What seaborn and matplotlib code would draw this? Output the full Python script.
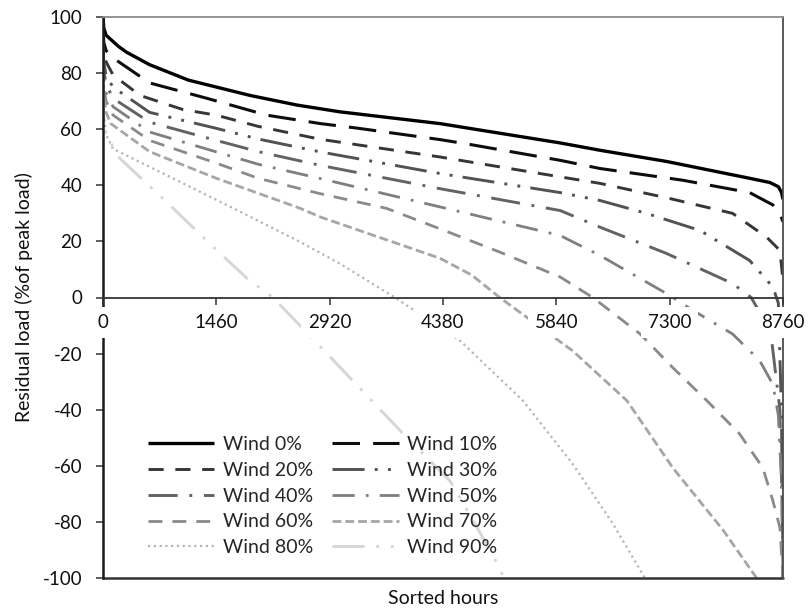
import matplotlib
matplotlib.use("Agg")
import matplotlib.pyplot as plt
import pandas as pd
import seaborn as sns

# ---------------- data ----------------
series_names = ["Wind 0%", "Wind 10%", "Wind 20%", "Wind 30%", "Wind 40%",
                "Wind 50%", "Wind 60%", "Wind 70%", "Wind 80%", "Wind 90%"]

hours_w0 = [0, 10, 40, 100, 200, 300, 600, 1100, 1900, 2500, 3050, 4340, 5890, 6400, 7260, 8330, 8590, 8700, 8740, 8760]
load_w0 = [100, 96, 93.5, 92, 89.5, 87.5, 83, 77.5, 72, 68.6, 66.2, 62, 55.1, 52.5, 48.5, 42.5, 41, 39.5, 37.5, 35]

hours_w10 = [0, 10, 40, 130, 600, 1340, 2110, 2800, 3270, 4340, 4720, 5890, 6400, 7470, 8330, 8630, 8720, 8760]
load_w10 = [97, 91, 88, 85.4, 76.5, 71, 65, 62, 60.4, 56.3, 54.6, 48.9, 46, 41.8, 37.4, 33, 30, 27]

hours_w20 = [0, 10, 40, 130, 480, 1030, 1460, 2000, 2800, 4340, 5890, 6400, 7300, 8110, 8550, 8720, 8760]
load_w20 = [94, 88, 84, 79.3, 72, 67, 65, 61, 56.4, 50.1, 43, 40.7, 35.3, 30, 21.5, 16.8, 6]

hours_w30 = [0, 10, 40, 130, 600, 1460, 2000, 2800, 4340, 5890, 6400, 7000, 7690, 8330, 8630, 8700, 8740, 8760]
load_w30 = [91, 84, 79, 75, 66, 60.3, 56.5, 51.9, 44.2, 37.4, 34.6, 30, 23.9, 13.2, 3.7, -2, -40, -100]

hours_w40 = [0, 10, 40, 130, 600, 1460, 2000, 2800, 4340, 5890, 6400, 7260, 8110, 8350, 8600, 8720, 8750, 8760]
load_w40 = [88, 81, 76, 71, 62.5, 56, 52, 47.1, 38.8, 31, 25.1, 15.7, 5, 0, -12, -40, -75, -100]

hours_w50 = [0, 10, 40, 130, 600, 1460, 2000, 2800, 4340, 5890, 6400, 7260, 7600, 8110, 8460, 8630, 8700, 8740, 8760]
load_w50 = [85, 78, 73, 68, 59, 51.9, 47.5, 42.4, 32.3, 22.1, 15, 1.4, -4.6, -13, -22.5, -31, -42, -65, -100]

hours_w60 = [0, 10, 40, 130, 600, 1460, 2000, 2800, 3650, 4340, 5110, 5890, 6310, 6920, 7340, 7780, 8200, 8500, 8630, 8720, 8760]
load_w60 = [82, 75, 70, 65, 56, 47.9, 42.5, 37, 31.8, 24.5, 16.2, 7.3, 0, -13, -25, -36.8, -48.6, -60.7, -72.5, -82, -100]

hours_w70 = [0, 10, 40, 100, 600, 1460, 2540, 2800, 3500, 4340, 4750, 5110, 6050, 6750, 7340, 7990, 8420]
load_w70 = [80, 72, 66, 62, 52, 42.5, 31.8, 28.7, 22, 14, 8, 0, -19, -36.8, -60.7, -83, -100]

hours_w80 = [0, 10, 40, 130, 820, 1680, 2540, 3050, 3760, 4600, 5410, 6050, 6570, 6980]
load_w80 = [78, 66, 58, 53, 43.6, 31.8, 19.8, 12.1, 0, -15.4, -36.8, -59.3, -80.7, -100]

hours_w90 = [0, 10, 40, 220, 820, 1460, 1860, 2190, 2920, 3830, 4470, 4820, 5110, 5160]
load_w90 = [75, 64, 58, 49.5, 34, 17, 6.7, 0, -21, -47.5, -65.4, -82, -96.4, -100]

x_ticks = [0, 1460, 2920, 4380, 5840, 7300, 8760]
y_ticks = [-100, -80, -60, -40, -20, 0, 20, 40, 60, 80, 100]

all_hours = [hours_w0, hours_w10, hours_w20, hours_w30, hours_w40,
             hours_w50, hours_w60, hours_w70, hours_w80, hours_w90]
all_loads = [load_w0, load_w10, load_w20, load_w30, load_w40,
             load_w50, load_w60, load_w70, load_w80, load_w90]

df = pd.concat(
    [pd.DataFrame({"hours": h, "load": l, "series": n})
     for n, h, l in zip(series_names, all_hours, all_loads)],
    ignore_index=True)

# ---------------- styles ----------------
palette = dict(zip(series_names, ["#000000", "#0d0d0d", "#363636", "#525252", "#636363",
                                  "#7f7f7f", "#8a8a8a", "#a6a6a6", "#b5b5b5", "#d6d6d6"]))
dashes = dict(zip(series_names, ["",
                                 (9, 4.3),
                                 (5.2, 4),
                                 (11, 3.5, 1, 3.5, 1, 3.5),
                                 (10, 4, 1, 4),
                                 (8, 4, 1, 4),
                                 (5, 3.6),
                                 (3.2, 1.4),
                                 (1, 1.6),
                                 (11, 4, 1, 4, 1, 4)]))
widths = [2.4, 2.2, 2.1, 2.1, 2.1, 2.0, 2.0, 2.0, 1.6, 2.1]

sns.set_theme(style="white")
plt.rcParams["font.family"] = ["Lato", "DejaVu Sans"]

fig = plt.figure(figsize=(8.08, 6.15), dpi=100)
ax = fig.add_axes([103 / 808, 1 - 578 / 615, 680 / 808, 561 / 615])

sns.lineplot(data=df, x="hours", y="load", hue="series", style="series",
             hue_order=series_names, style_order=series_names,
             palette=palette, dashes=dashes, estimator=None,
             linewidth=2, legend=False, ax=ax)

lines = list(ax.get_lines())[:10]
for ln, w in zip(lines, widths):
    ln.set_linewidth(w)
    ln.set_solid_capstyle("butt")
    ln.set_dash_capstyle("butt")

ax.set_xlim(0, 8760)
ax.set_ylim(-100, 100)

# axes / spines
for s in ["left", "right", "top", "bottom"]:
    ax.spines[s].set_visible(True)
ax.spines["bottom"].set_position(("data", 0))
ax.spines["bottom"].set_color("#333333")
ax.spines["bottom"].set_linewidth(1.3)
ax.spines["left"].set_color("#1a1a1a")
ax.spines["left"].set_linewidth(1.8)
ax.spines["right"].set_color("#4d4d4d")
ax.spines["right"].set_linewidth(1.3)
ax.spines["top"].set_color("#8c8c8c")
ax.spines["top"].set_linewidth(1.3)
ax.axhline(-100, color="#333333", lw=1.8, clip_on=False, zorder=2.5)

ax.set_xticks(x_ticks)
ax.set_xticklabels([str(t) for t in x_ticks],
                   bbox=dict(facecolor="white", edgecolor="none", pad=4))
ax.set_yticks(y_ticks)
ax.set_yticklabels([str(t) for t in y_ticks])
ax.tick_params(axis="both", which="major", direction="out", length=5, width=1.1,
               color="#333333", labelcolor="#111111", labelsize=13.5,
               bottom=True, left=True)
ax.tick_params(axis="x", pad=7)
ax.tick_params(axis="y", pad=10)
ax.xaxis.set_zorder(3)

ax.set_xlabel("Sorted hours", fontsize=14, color="#111111")
ax.xaxis.set_label_coords(0.5, -0.022)
ax.set_ylabel("Residual load (%of peak load)", fontsize=14, color="#111111", labelpad=7)

order = [0, 2, 4, 6, 8, 1, 3, 5, 7, 9]
ax.legend([lines[i] for i in order], [series_names[i] for i in order],
          ncol=2, loc="upper left", bbox_to_anchor=(0.066, 0.253),
          frameon=False, fontsize=14, handlelength=3.4, handletextpad=0.45,
          columnspacing=1.0, labelspacing=0.45, borderpad=0, borderaxespad=0)

fig.savefig("out.png", dpi=100, facecolor="white")
